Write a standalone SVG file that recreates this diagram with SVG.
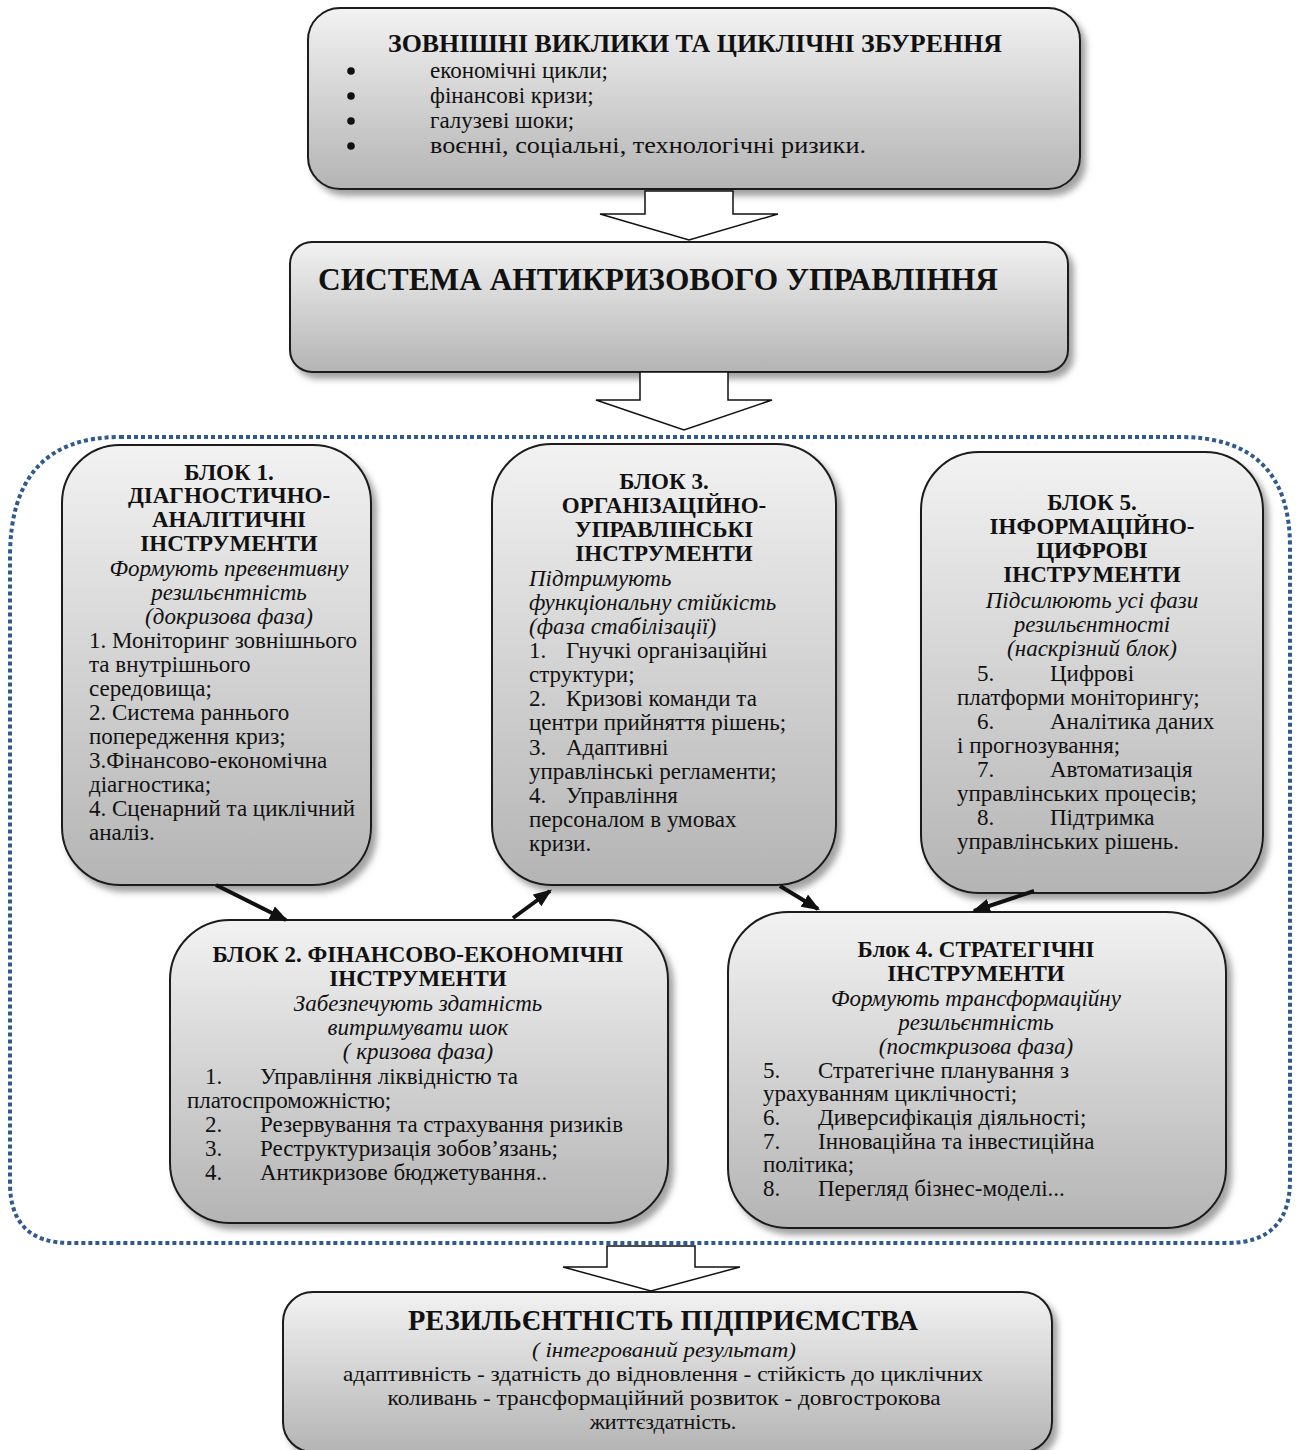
<svg xmlns="http://www.w3.org/2000/svg" width="1298" height="1450" viewBox="0 0 1298 1450">
<style>
.box{fill:url(#g);stroke:#1a1a1a;stroke-width:2;filter:url(#sh)}
.t{font-family:"Liberation Serif","Times New Roman",serif;fill:#111}
.b{font-weight:bold}
.i{font-style:italic}
.c{text-anchor:middle}
.fs{font-size:23px}
.barrow{fill:#fff;stroke:#111;stroke-width:1.5}
.con{stroke:#111;stroke-width:4;fill:none;marker-end:url(#ah)}
</style>
<defs>
<linearGradient id="g" x1="0" y1="0" x2="0" y2="1">
<stop offset="0" stop-color="#f2f2f2"/>
<stop offset="1" stop-color="#b4b4b4"/>
</linearGradient>
<filter id="sh" x="-10%" y="-10%" width="125%" height="125%">
<feDropShadow dx="5" dy="6" stdDeviation="3" flood-color="#666" flood-opacity="0.6"/>
</filter>
<marker id="ah" markerWidth="5" markerHeight="4" refX="4" refY="1.8" orient="auto" markerUnits="strokeWidth">
<path d="M0,0 L4.6,1.8 L0,3.6 Z" fill="#111"/>
</marker>
</defs>

<g id="frame">
<path d="M120,437 L1180,437 Q1290,437 1290,547 L1290,1180 Q1290,1243 1227,1243 L70,1243 Q10,1243 10,1183 L10,557 Q10,437 120,437 Z" fill="none" stroke="#2f5a8f" stroke-width="4" stroke-dasharray="4 3"/>
</g>

<g id="top">
<rect class="box" x="308" y="8" width="772" height="181" rx="32"/>
<text class="t b" x="388" y="52" font-size="26" textLength="614" lengthAdjust="spacingAndGlyphs">ЗОВНІШНІ ВИКЛИКИ ТА ЦИКЛІЧНІ ЗБУРЕННЯ</text>
<g fill="#111">
<circle cx="351" cy="71" r="3.8"/><circle cx="351" cy="96" r="3.8"/><circle cx="351" cy="121" r="3.8"/><circle cx="351" cy="146" r="3.8"/>
</g>
<g class="t" font-size="23">
<text x="430" y="78">економічні цикли;</text>
<text x="430" y="103">фінансові кризи;</text>
<text x="430" y="128">галузеві шоки;</text>
<text x="430" y="153" textLength="436" lengthAdjust="spacingAndGlyphs">воєнні, соціальні, технологічні ризики.</text>
</g>
</g>

<g id="system">
<rect class="box" x="290" y="242" width="778" height="130" rx="22"/>
<text class="t b" x="318" y="290" font-size="31" textLength="680" lengthAdjust="spacingAndGlyphs">СИСТЕМА АНТИКРИЗОВОГО УПРАВЛІННЯ</text>
</g>

<g id="block1">
<rect class="box" x="62" y="445" width="309" height="440" rx="58"/>
<g class="t fs">
<text class="b c" x="229" y="480">БЛОК 1.</text>
<text class="b c" x="229" y="503">ДІАГНОСТИЧНО-</text>
<text class="b c" x="229" y="527">АНАЛІТИЧНІ</text>
<text class="b c" x="229" y="551">ІНСТРУМЕНТИ</text>
<text class="i c" x="229" y="576">Формують превентивну</text>
<text class="i c" x="229" y="600">резильєнтність</text>
<text class="i c" x="229" y="624">(докризова фаза)</text>
<text x="89" y="648">1. Моніторинг зовнішнього</text>
<text x="89" y="672">та внутрішнього</text>
<text x="89" y="696">середовища;</text>
<text x="89" y="720">2. Система раннього</text>
<text x="89" y="744">попередження криз;</text>
<text x="89" y="768">3.Фінансово-економічна</text>
<text x="89" y="792">діагностика;</text>
<text x="89" y="816">4. Сценарний та циклічний</text>
<text x="89" y="840">аналіз.</text>
</g>
</g>

<g id="block3">
<rect class="box" x="492" y="444" width="344" height="441" rx="60"/>
<g class="t fs">
<text class="b c" x="664" y="489">БЛОК 3.</text>
<text class="b c" x="664" y="513">ОРГАНІЗАЦІЙНО-</text>
<text class="b c" x="664" y="537">УПРАВЛІНСЬКІ</text>
<text class="b c" x="664" y="561">ІНСТРУМЕНТИ</text>
<text class="i" x="529" y="586">Підтримують</text>
<text class="i" x="529" y="610">функціональну стійкість</text>
<text class="i" x="529" y="634">(фаза стабілізації)</text>
<text x="529" y="658">1.</text><text x="566" y="658">Гнучкі організаційні</text>
<text x="529" y="682">структури;</text>
<text x="529" y="706">2.</text><text x="566" y="706">Кризові команди та</text>
<text x="529" y="730">центри прийняття рішень;</text>
<text x="529" y="755">3.</text><text x="566" y="755">Адаптивні</text>
<text x="529" y="779">управлінські регламенти;</text>
<text x="529" y="803">4.</text><text x="566" y="803">Управління</text>
<text x="529" y="827">персоналом в умовах</text>
<text x="529" y="851">кризи.</text>
</g>
</g>

<g id="block5">
<rect class="box" x="921" y="452" width="342" height="441" rx="58"/>
<g class="t fs">
<text class="b c" x="1092" y="510">БЛОК 5.</text>
<text class="b c" x="1092" y="534">ІНФОРМАЦІЙНО-</text>
<text class="b c" x="1092" y="558">ЦИФРОВІ</text>
<text class="b c" x="1092" y="582">ІНСТРУМЕНТИ</text>
<text class="i c" x="1092" y="608">Підсилюють усі фази</text>
<text class="i c" x="1092" y="632">резильєнтності</text>
<text class="i c" x="1092" y="656">(наскрізний блок)</text>
<text x="977" y="681">5.</text><text x="1050" y="681">Цифрові</text>
<text x="957" y="705">платформи моніторингу;</text>
<text x="977" y="729">6.</text><text x="1050" y="729">Аналітика даних</text>
<text x="957" y="753">і прогнозування;</text>
<text x="977" y="777">7.</text><text x="1050" y="777">Автоматизація</text>
<text x="957" y="801">управлінських процесів;</text>
<text x="977" y="825">8.</text><text x="1050" y="825">Підтримка</text>
<text x="957" y="849">управлінських рішень.</text>
</g>
</g>

<g id="block2">
<rect class="box" x="170" y="920" width="498" height="303" rx="60"/>
<g class="t fs">
<text class="b c" x="418" y="962">БЛОК 2. ФІНАНСОВО-ЕКОНОМІЧНІ</text>
<text class="b c" x="418" y="986">ІНСТРУМЕНТИ</text>
<text class="i c" x="418" y="1011">Забезпечують здатність</text>
<text class="i c" x="418" y="1035">витримувати шок</text>
<text class="i c" x="418" y="1059">( кризова фаза)</text>
<text x="205" y="1084">1.</text><text x="260" y="1084">Управління ліквідністю та</text>
<text x="187" y="1108">платоспроможністю;</text>
<text x="205" y="1132">2.</text><text x="260" y="1132">Резервування та страхування ризиків</text>
<text x="205" y="1156">3.</text><text x="260" y="1156">Реструктуризація зобов’язань;</text>
<text x="205" y="1180">4.</text><text x="260" y="1180">Антикризове бюджетування..</text>
</g>
</g>

<g id="block4">
<rect class="box" x="728" y="912" width="498" height="316" rx="60"/>
<g class="t fs">
<text class="b c" x="976" y="957">Блок 4. СТРАТЕГІЧНІ</text>
<text class="b c" x="976" y="981">ІНСТРУМЕНТИ</text>
<text class="i c" x="976" y="1006">Формують трансформаційну</text>
<text class="i c" x="976" y="1030">резильєнтність</text>
<text class="i c" x="976" y="1054">(посткризова фаза)</text>
<text x="763" y="1078">5.</text><text x="818" y="1078">Стратегічне планування з</text>
<text x="763" y="1101">урахуванням циклічності;</text>
<text x="763" y="1125">6.</text><text x="818" y="1125">Диверсифікація діяльності;</text>
<text x="763" y="1149">7.</text><text x="818" y="1149">Інноваційна та інвестиційна</text>
<text x="763" y="1172">політика;</text>
<text x="763" y="1196">8.</text><text x="818" y="1196">Перегляд бізнес-моделі...</text>
</g>
</g>

<g id="result">
<rect class="box" x="283" y="1292" width="769" height="160" rx="30"/>
<g class="t">
<text class="b c" x="663" y="1330" font-size="30" textLength="510" lengthAdjust="spacingAndGlyphs">РЕЗИЛЬЄНТНІСТЬ ПІДПРИЄМСТВА</text>
<text class="i c" x="664" y="1357" font-size="22" textLength="264" lengthAdjust="spacingAndGlyphs">( інтегрований результат)</text>
<text class="c" x="663" y="1381" font-size="22" textLength="640" lengthAdjust="spacingAndGlyphs">адаптивність - здатність до відновлення - стійкість до циклічних</text>
<text class="c" x="664" y="1405" font-size="22" textLength="553" lengthAdjust="spacingAndGlyphs">коливань - трансформаційний розвиток - довгострокова</text>
<text class="c" x="663" y="1429" font-size="22">життєздатність.</text>
</g>
</g>

<g id="connectors">
<path class="barrow" d="M645,191 L733,191 L733,214 L778,214 L689,240 L600,214 L645,214 Z"/>
<path class="barrow" d="M640,372 L728,372 L728,400 L772,400 L684,430 L596,400 L640,400 Z"/>
<path class="barrow" d="M607,1246 L695,1246 L695,1267 L740,1267 L651,1291 L563,1267 L607,1267 Z"/>
<line class="con" x1="216" y1="885" x2="286" y2="920"/>
<line class="con" x1="513" y1="918" x2="550" y2="891"/>
<line class="con" x1="780" y1="886" x2="818" y2="909"/>
<line class="con" x1="1034" y1="891" x2="974" y2="911"/>
</g>
</svg>
